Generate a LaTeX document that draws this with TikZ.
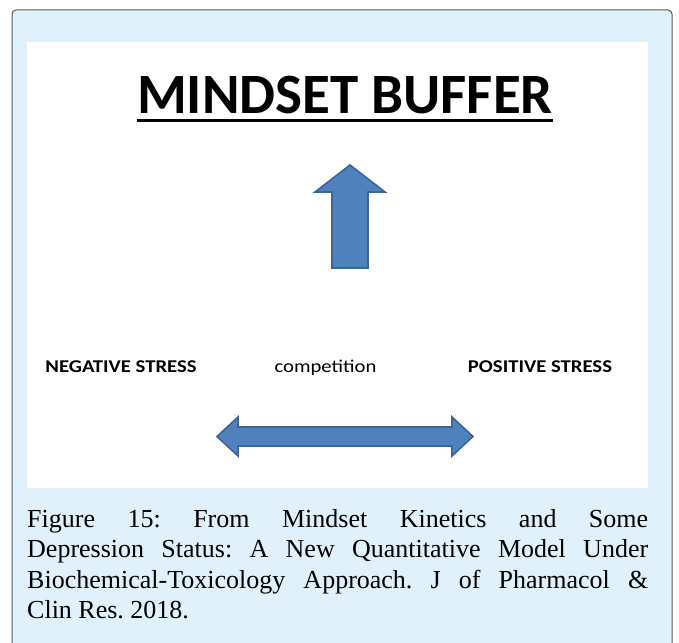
\documentclass[tikz,border=0pt]{standalone}
\usepackage{fontspec}
\setmainfont{Liberation Serif}
\newfontfamily\calibri{Carlito}
\usetikzlibrary{positioning}
\definecolor{panelblue}{HTML}{E0F1FB}
\definecolor{arrowblue}{HTML}{4F81BD}
\definecolor{arrowedge}{HTML}{3B6697}
\frenchspacing

\begin{document}
\begin{tikzpicture}[x=1pt,y=-1pt,
  label/.style={font=\calibri\fontsize{18}{20}\selectfont, inner sep=0, anchor=base},
  boldlabel/.style={label, font=\calibri\bfseries\fontsize{18}{20}\selectfont},
  blockarrow/.style={fill=arrowblue, draw=arrowedge, line width=1.6pt, line join=miter}]

\clip (0,0) rectangle (679,642);
\fill[white] (0,0) rectangle (679,642);

% frame and panel
\draw[fill=panelblue, draw=black!65, line width=1pt, rounded corners=4pt] (12,660) -- (12,10) -- (672,10) -- (672,660);
\fill[white] (27,42) rectangle (648,488);

\node[font=\calibri\bfseries\fontsize{57}{64}\selectfont, inner sep=0, anchor=base] (title) at (345,113) {MINDSET BUFFER};
\draw[line width=3pt] ([yshift=-7pt]title.base west) -- ([yshift=-7pt]title.base east);

% up arrow
\coordinate (tip) at (350,165);
\draw[blockarrow] (tip) -- (385,192) -- (368,192) -- (368,268) -- (332,268) -- (332,192) -- (315,192) -- cycle;

\node[boldlabel] (neg) at (121,372) {\scalebox{1.15}[1]{NEGATIVE STRESS}};
\node[label] (comp) at (325.5,372) {\scalebox{1.15}[1]{competition}};
\node[boldlabel] (pos) at (540,372) {\scalebox{1.15}[1]{POSITIVE STRESS}};

% double arrow
\coordinate (l) at (217,436.5);
\coordinate (r) at (473,436.5);
\draw[blockarrow] (l) -- (238,417) -- (238,427) -- (452,427) -- (452,417) -- (r) -- (452,456) -- (452,446) -- (238,446) -- (238,456) -- cycle;

\node[font=\fontsize{26}{30.5}\selectfont, text width=621pt, align=justify, inner sep=0, anchor=north west] (caption) at (27,509)
{Figure 15: From Mindset Kinetics and Some\linebreak Depression Status: A New Quantitative Model Under\linebreak Biochemical-Toxicology Approach. J of Pharmacol \&\linebreak Clin Res. 2018.};

\end{tikzpicture}
\end{document}
